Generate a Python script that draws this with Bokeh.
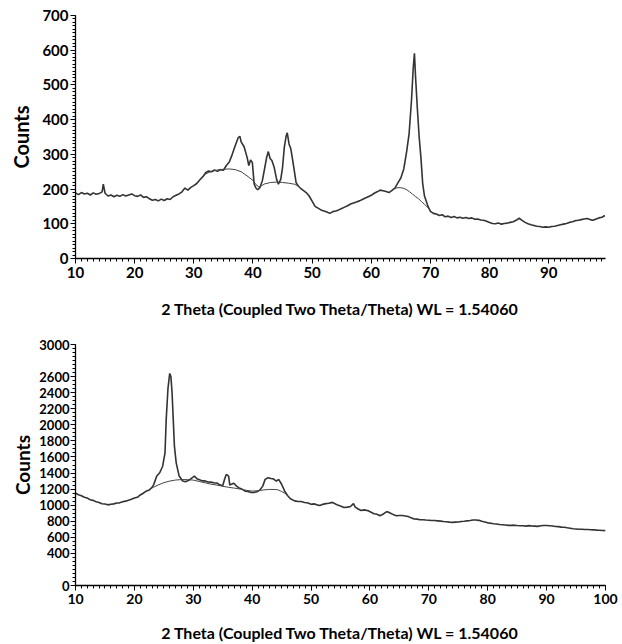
from bokeh.plotting import figure
from bokeh.models import FixedTicker, Range1d
from bokeh.layouts import column
from bokeh.embed import file_html
from bokeh.resources import INLINE

# ---------------- Top pattern ----------------
theta_a = [10.0, 10.5, 11.0, 11.5, 12.0, 12.5, 13.0, 13.5, 14.0, 14.5, 14.7, 15.0, 15.5, 16.0, 16.5,
           17.0, 17.5, 18.0, 18.5, 19.0, 19.5, 20.0, 20.5, 21.0, 21.5, 22.0, 22.5, 23.0, 23.5, 24.0,
           24.5, 25.0, 25.5, 26.0, 26.5, 27.0, 27.5, 28.0, 28.5, 29.0, 29.5, 30.0, 30.5, 31.0, 31.5,
           32.0, 32.5, 33.0, 33.5, 34.0, 34.5, 35.0, 35.5, 36.0, 36.5, 37.0, 37.5, 37.8, 38.0, 38.5,
           39.0, 39.3, 39.6, 39.9, 40.2, 40.5, 40.8, 41.2, 41.6, 42.0, 42.3, 42.6, 42.9, 43.2, 43.6,
           44.0, 44.3, 44.7, 45.0, 45.3, 45.6, 45.8, 46.1, 46.4, 46.7, 47.0, 47.3, 47.7, 48.0, 48.5,
           49.0, 49.5, 50.0, 50.5, 51.0, 51.5, 52.0, 52.5, 53.0, 53.5, 54.0, 54.5, 55.0, 55.5, 56.0,
           56.5, 57.0, 57.5, 58.0, 58.5, 59.0, 59.5, 60.0, 60.5, 61.0, 61.5, 62.0, 62.5, 63.0, 63.5,
           64.0, 64.5, 65.0, 65.5, 66.0, 66.4, 66.8, 67.1, 67.3, 67.5, 67.8, 68.1, 68.4, 68.7, 69.0,
           69.3, 69.6, 70.0, 70.5, 71.0, 71.5, 72.0, 72.5, 73.0, 73.5, 74.0, 74.5, 75.0, 75.5, 76.0,
           76.5, 77.0, 77.5, 78.0, 78.5, 79.0, 79.5, 80.0, 80.5, 81.0, 81.5, 82.0, 82.5, 83.0, 83.5,
           84.0, 84.5, 85.0, 85.5, 86.0, 86.5, 87.0, 87.5, 88.0, 88.5, 89.0, 89.5, 90.0, 90.5, 91.0,
           91.5, 92.0, 92.5, 93.0, 93.5, 94.0, 94.5, 95.0, 95.5, 96.0, 96.5, 97.0, 97.5, 98.0, 98.5,
           99.0, 99.5]
counts_a = [189, 184, 190, 186, 188, 183, 189, 185, 187, 192, 214, 188, 180, 183, 178,
            182, 179, 184, 180, 183, 186, 181, 179, 183, 176, 178, 172, 168, 170, 166,
            171, 167, 172, 170, 178, 182, 186, 192, 203, 197, 205, 210, 216, 226, 235,
            247, 252, 250, 255, 251, 256, 254, 268, 278, 300, 325, 348, 352, 336, 322,
            292, 268, 284, 276, 215, 203, 198, 205, 225, 262, 290, 308, 288, 282, 262,
            228, 214, 228, 262, 320, 352, 362, 330, 316, 285, 252, 218, 208, 203, 196,
            190, 180, 165, 150, 145, 140, 137, 134, 130, 135, 137, 140, 144, 148, 152,
            157, 160, 163, 166, 170, 174, 178, 182, 188, 192, 197, 195, 193, 190, 196,
            203, 218, 232, 258, 310, 360, 455, 550, 591, 520, 430, 350, 290, 215, 180,
            165, 150, 136, 130, 128, 124, 126, 120, 122, 118, 121, 117, 119, 116, 118,
            115, 117, 113, 114, 111, 110, 107, 104, 101, 100, 102, 99, 101, 102, 104,
            106, 110, 116, 110, 104, 100, 97, 95, 93, 92, 90, 91, 90, 92, 93,
            95, 97, 99, 101, 104, 106, 109, 110, 112, 114, 115, 112, 110, 114, 117,
            119, 124]

bg1_theta_a = [31.0, 32.0, 33.0, 34.0, 35.0, 36.0, 37.0, 38.0, 39.0, 40.0, 40.5, 41.0, 41.5,
               42.0, 43.0, 44.0, 45.0, 46.0, 47.0, 47.5, 48.0]
bg1_counts_a = [226, 244, 251, 255, 257, 258, 256, 250, 238, 225, 213, 206, 210,
                215, 219, 220, 219, 217, 214, 210, 204]
bg2_theta_a = [63.5, 64.0, 64.5, 65.0, 65.5, 66.0, 66.5, 67.0, 67.5, 68.0, 68.5, 69.0, 69.5, 70.0]
bg2_counts_a = [196, 202, 204, 204, 202, 198, 192, 185, 178, 172, 164, 156, 148, 138]

ticks_x_a = [10, 20, 30, 40, 50, 60, 70, 80, 90]
ticks_y_a = [0, 100, 200, 300, 400, 500, 600, 700]

# ---------------- Bottom pattern ----------------
theta_b = [10.0, 10.5, 11.0, 11.5, 12.0, 12.5, 13.0, 13.5, 14.0, 14.5, 15.0, 15.5, 16.0, 16.5,
           17.0, 17.5, 18.0, 18.5, 19.0, 19.5, 20.0, 20.5, 21.0, 21.5, 22.0, 22.5, 23.0, 23.3,
           23.8, 24.3, 24.8, 25.2, 25.4, 25.7, 26.0, 26.2, 26.4, 26.6, 26.8, 27.1, 27.6, 28.2,
           28.7, 29.3, 29.9, 30.2, 30.6, 31.0, 31.5, 32.0, 32.5, 33.0, 33.5, 34.0, 34.5, 35.0,
           35.3, 35.6, 36.0, 36.2, 36.6, 36.9, 37.3, 37.7, 38.2, 38.8, 39.3, 39.8, 40.3, 40.8,
           41.3, 41.8, 42.2, 42.7, 43.2, 43.6, 44.1, 44.5, 45.0, 45.5, 46.0, 46.5, 47.2, 47.8,
           48.3, 48.9, 49.5, 50.0, 50.5, 51.0, 51.5, 52.0, 52.5, 53.0, 53.6, 54.0, 54.5, 55.0,
           55.6, 56.2, 56.7, 57.2, 57.5, 58.0, 58.5, 59.0, 59.7, 60.2, 60.7, 61.2, 61.7, 62.2,
           62.7, 63.0, 63.5, 64.0, 64.5, 65.0, 65.5, 66.0, 66.5, 67.0, 67.5, 68.0, 68.5, 69.0,
           69.5, 70.0, 70.5, 71.0, 71.5, 72.0, 72.5, 73.0, 73.5, 74.0, 74.5, 75.0, 75.5, 76.0,
           76.5, 77.0, 77.5, 78.0, 78.5, 79.0, 79.5, 80.0, 80.5, 81.0, 81.5, 82.0, 82.5, 83.0,
           83.5, 84.0, 84.5, 85.0, 85.5, 86.0, 86.5, 87.0, 87.5, 88.0, 88.5, 89.0, 89.5, 90.0,
           90.5, 91.0, 91.5, 92.0, 92.5, 93.0, 93.5, 94.0, 94.5, 95.0, 95.5, 96.0, 96.5, 97.0,
           97.5, 98.0, 98.5, 99.0, 99.5, 100.0]
counts_b = [1148, 1130, 1118, 1098, 1088, 1068, 1060, 1042, 1033, 1018, 1014, 1004, 1012, 1016,
            1027, 1029, 1042, 1050, 1062, 1073, 1088, 1098, 1127, 1148, 1174, 1188, 1222, 1259,
            1362, 1403, 1485, 1650, 2062, 2450, 2640, 2600, 2400, 2062, 1732, 1527, 1362, 1300,
            1292, 1312, 1345, 1362, 1328, 1318, 1303, 1302, 1288, 1287, 1278, 1276, 1253, 1242,
            1320, 1383, 1362, 1250, 1265, 1272, 1240, 1218, 1202, 1175, 1170, 1158, 1157, 1166,
            1188, 1237, 1321, 1342, 1333, 1327, 1300, 1321, 1260, 1177, 1120, 1080, 1053, 1045,
            1046, 1033, 1026, 1012, 1016, 1004, 996, 1010, 1019, 1024, 1035, 1020, 1001, 990,
            971, 976, 984, 1020, 975, 952, 934, 941, 930, 912, 894, 886, 868, 886,
            914, 917, 900, 882, 868, 871, 871, 866, 858, 842, 827, 826, 819, 819,
            815, 813, 809, 809, 805, 801, 796, 793, 789, 786, 789, 791, 797, 799,
            805, 809, 815, 815, 811, 799, 791, 780, 776, 769, 766, 759, 757, 753,
            749, 749, 751, 746, 744, 743, 739, 745, 740, 739, 736, 743, 747, 746,
            744, 741, 734, 733, 727, 726, 719, 713, 707, 704, 701, 701, 697, 697,
            694, 693, 689, 688, 684, 683]

bg_theta_b = [22.5, 23.0, 24.0, 25.0, 26.0, 27.0, 28.0, 29.0, 30.0, 31.0, 32.0, 33.0, 34.0, 35.0,
              36.0, 37.0, 38.0, 39.0, 40.0, 41.0, 42.0, 43.0, 44.0, 44.5, 45.0, 45.5, 46.0]
bg_counts_b = [1190, 1215, 1250, 1280, 1300, 1313, 1318, 1318, 1312, 1295, 1278, 1262, 1250, 1235,
               1222, 1212, 1200, 1185, 1175, 1180, 1190, 1196, 1195, 1188, 1170, 1150, 1125]

ticks_x_b = [10, 20, 30, 40, 50, 60, 70, 80, 90, 100]
ticks_y_b = [0, 400, 600, 800, 1000, 1200, 1400, 1600, 1800, 2000, 2200, 2400, 2600, 3000]

XLABEL = "2 Theta (Coupled Two Theta/Theta) WL = 1.54060"
FONT = "Lato"


def style(p, xt, xminor, yt, yminor, tick_size, ylab_size):
    p.grid.visible = False
    p.outline_line_color = None
    for ax in (p.xaxis[0], p.yaxis[0]):
        ax.axis_line_color = "black"
        ax.axis_line_width = 1.3
        ax.major_tick_line_color = "black"
        ax.minor_tick_line_color = "black"
        ax.major_tick_in = 0
        ax.major_tick_out = 5
        ax.minor_tick_in = 0
        ax.minor_tick_out = 3
        ax.major_label_text_font = FONT
        ax.major_label_text_font_style = "bold"
        ax.major_label_text_font_size = tick_size
        ax.major_label_text_color = "black"
        ax.axis_label_text_font = FONT
        ax.axis_label_text_font_style = "bold"
        ax.axis_label_text_color = "black"
    p.xaxis[0].ticker = FixedTicker(ticks=xt, minor_ticks=xminor)
    p.yaxis[0].ticker = FixedTicker(ticks=yt, minor_ticks=yminor)
    p.xaxis[0].axis_label = XLABEL
    p.xaxis[0].axis_label_text_font_size = "16px"
    p.xaxis[0].major_label_standoff = 3
    p.yaxis[0].axis_label = "Counts"
    p.yaxis[0].axis_label_text_font_size = ylab_size
    p.yaxis[0].axis_label_standoff = 6
    p.yaxis[0].major_label_standoff = 2


p1 = figure(width=622, height=320, output_backend="svg", toolbar_location=None,
            x_range=Range1d(10, 99.6), y_range=Range1d(0, 700),
            min_border_left=75, min_border_right=17, min_border_top=15, min_border_bottom=62)
p1.line(theta_a, counts_a, line_color="#333333", line_width=1.6)
p1.line(bg1_theta_a, bg1_counts_a, line_color="#444444", line_width=1.0)
p1.line(bg2_theta_a, bg2_counts_a, line_color="#444444", line_width=1.0)
style(p1, ticks_x_a, list(range(10, 100)), ticks_y_a, list(range(0, 701, 10)), "15px", "20px")
p1.xaxis[0].axis_label_standoff = 18

p2 = figure(width=622, height=324, output_backend="svg", toolbar_location=None,
            x_range=Range1d(10, 100), y_range=Range1d(0, 3000),
            min_border_left=71, min_border_right=13, min_border_top=24, min_border_bottom=57)
p2.line(theta_b, counts_b, line_color="#333333", line_width=1.6)
p2.line(bg_theta_b, bg_counts_b, line_color="#444444", line_width=1.0)
style(p2, ticks_x_b, list(range(10, 101)), ticks_y_b, list(range(0, 3001, 50)), "14px", "19px")
p2.yaxis[0].major_label_text_font_size = "13px"
p2.yaxis[0].axis_label_standoff = 2
p2.yaxis[0].major_label_standoff = 1
p2.xaxis[0].axis_label_standoff = 16

layout = column(p1, p2, spacing=0)
open("out.html", "w").write(file_html(layout, INLINE))
